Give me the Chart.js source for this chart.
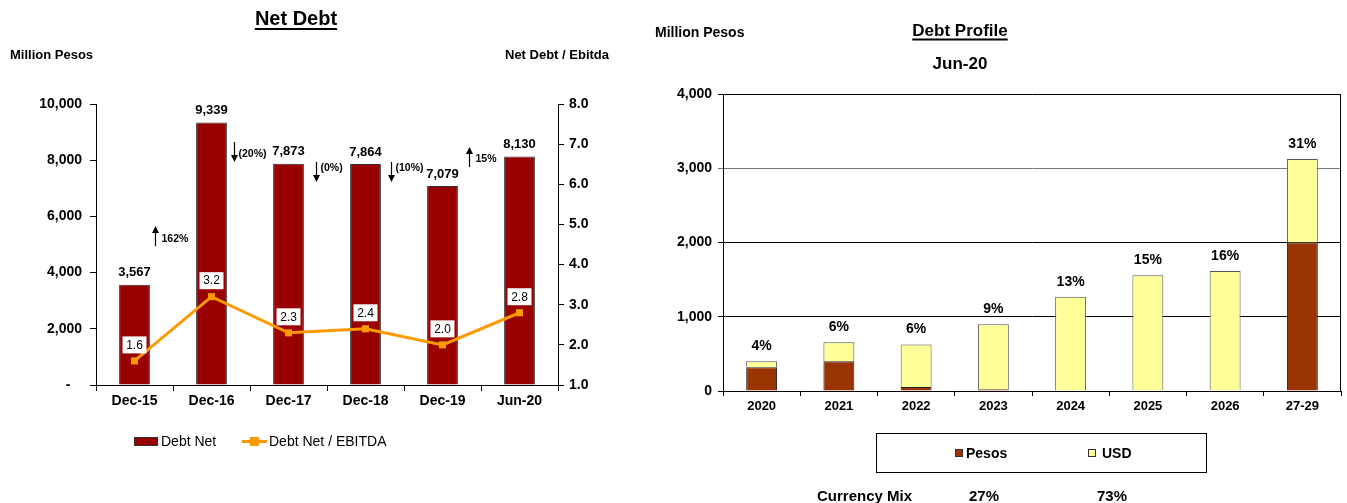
<!DOCTYPE html>
<html>
<head>
<meta charset="utf-8">
<script src="https://cdn.jsdelivr.net/npm/chart.js@4.4.1/dist/chart.umd.min.js"></script>
<style>
  body { margin: 0; background: #fff; }
  #page { position: relative; width: 1347px; height: 503px; overflow: hidden; font-family: "Liberation Sans", Arial, sans-serif; color: #000; }
  canvas { position: absolute; top: 0; }
  .t { position: absolute; white-space: nowrap; font-weight: bold; line-height: 1; }
  .c { transform: translate(-50%, -50%); }
  .m { transform: translateY(-50%); }
  .u { text-decoration: underline; text-decoration-thickness: 2px; text-underline-offset: 3px; }
  .sw { position: absolute; box-sizing: border-box; }
</style>
</head>
<body>
<div id="page">
  <canvas id="netDebt" width="640" height="503" style="left:0"></canvas>
  <canvas id="debtProfile" width="707" height="503" style="left:640px"></canvas>

  <!-- Net Debt headings -->
  <div class="t c u" style="left:296px;top:18px;font-size:20px">Net Debt</div>
  <div class="t m" style="left:10px;top:54px;font-size:13px">Million Pesos</div>
  <div class="t m" style="left:505px;top:54px;font-size:13px">Net Debt / Ebitda</div>

  <!-- Net Debt legend -->
  <div class="sw" style="left:134px;top:437px;width:24px;height:9px;background:#990000;border:1px solid #333"></div>
  <div class="t m" style="left:161px;top:441px;font-size:14px;font-weight:normal">Debt Net</div>
  <div class="sw" style="left:242px;top:440px;width:25px;height:3px;background:#ff9900"></div>
  <div class="sw" style="left:250px;top:437px;width:9px;height:9px;background:#ff9900"></div>
  <div class="t m" style="left:269px;top:441px;font-size:14px;font-weight:normal">Debt Net / EBITDA</div>

  <!-- Debt Profile headings -->
  <div class="t m" style="left:655px;top:32px;font-size:14px">Million Pesos</div>
  <div class="t c u" style="left:960px;top:30px;font-size:17px">Debt Profile</div>
  <div class="t c" style="left:960px;top:63px;font-size:17px">Jun-20</div>

  <!-- Debt Profile legend -->
  <div class="sw" style="left:876px;top:433px;width:331px;height:40px;border:1px solid #000"></div>
  <div class="sw" style="left:955px;top:449px;width:8px;height:8px;background:#993300;border:1px solid #333"></div>
  <div class="t m" style="left:966px;top:453px;font-size:14px">Pesos</div>
  <div class="sw" style="left:1088px;top:449px;width:8px;height:8px;background:#ffff99;border:1px solid #333"></div>
  <div class="t m" style="left:1102px;top:453px;font-size:14px">USD</div>

  <div class="t m" style="left:817px;top:495px;font-size:15px">Currency Mix</div>
  <div class="t c" id="mixPesos" style="left:984px;top:495px;font-size:15px"></div>
  <div class="t c" id="mixUsd" style="left:1112px;top:495px;font-size:15px"></div>
</div>

<script>
const FONT = '"Liberation Sans", Arial, sans-serif'

// Net Debt (million pesos) and leverage
const PERIODS       = ["Dec-15", "Dec-16", "Dec-17", "Dec-18", "Dec-19", "Jun-20"]
const NET_DEBT      = [3567, 9339, 7873, 7864, 7079, 8130]
const LEVERAGE      = [1.6, 3.2, 2.3, 2.4, 2.0, 2.8]
const CHANGE_LABELS = ["162%", "(20%)", "(0%)", "(10%)", "15%"]
const CHANGE_UP     = [true, false, false, false, true]

// Debt profile by maturity (million pesos)
const YEARS        = ["2020", "2021", "2022", "2023", "2024", "2025", "2026", "27-29"]
const PESOS        = [320, 400, 55, 25, 0, 0, 0, 2000]
const USD          = [80, 255, 570, 875, 1270, 1560, 1615, 1125]
const SHARE_LABELS = ["4%", "6%", "6%", "9%", "13%", "15%", "16%", "31%"]
const CURRENCY_MIX = ["27%", "73%"]

Chart.defaults.font.family = FONT
Chart.defaults.color = "#000"

document.getElementById("mixPesos").textContent = CURRENCY_MIX[0]
document.getElementById("mixUsd").textContent   = CURRENCY_MIX[1]

const fmt = v => v.toLocaleString("en-US")

// value labels on bars, boxed leverage labels, and period-over-period arrows
const netDebtLabels = {
  id: "netDebtLabels",
  afterDatasetsDraw(chart, args, opts) {
    const ctx  = chart.ctx
    const bars = chart.getDatasetMeta(0).data
    const pts  = chart.getDatasetMeta(1).data
    const y    = chart.scales.y
    ctx.save()

    ctx.font = "bold 13px " + FONT
    ctx.textAlign = "center"
    ctx.textBaseline = "middle"
    bars.forEach((b, i) => ctx.fillText(fmt(NET_DEBT[i]), b.x, b.y - 12))

    ctx.font = "12px " + FONT
    pts.forEach((p, i) => {
      const cy = p.y - 16
      ctx.fillStyle = "#fff"
      ctx.fillRect(p.x - 12, cy - 8.5, 24, 17)
      ctx.fillStyle = "#000"
      ctx.fillText(LEVERAGE[i].toFixed(1), p.x, cy + 0.5)
    })

    ctx.font = "bold 10.5px " + FONT
    ctx.textAlign = "left"
    ctx.strokeStyle = "#000"
    ctx.lineWidth = 1.2
    CHANGE_LABELS.forEach((txt, i) => {
      const b  = bars[i]
      const ax = Math.round(b.x + b.width / 2 + opts.gaps[i]) + 0.5
      const cy = y.getPixelForValue(opts.anchors[i])
      const top = cy - 10, bot = cy + 10
      ctx.beginPath()
      if (CHANGE_UP[i]) {
        ctx.moveTo(ax, bot); ctx.lineTo(ax, top + 5)
      } else {
        ctx.moveTo(ax, top); ctx.lineTo(ax, bot - 5)
      }
      ctx.stroke()
      ctx.beginPath()
      if (CHANGE_UP[i]) {
        ctx.moveTo(ax, top); ctx.lineTo(ax - 3.5, top + 7); ctx.lineTo(ax + 3.5, top + 7)
      } else {
        ctx.moveTo(ax, bot); ctx.lineTo(ax - 3.5, bot - 7); ctx.lineTo(ax + 3.5, bot - 7)
      }
      ctx.closePath()
      ctx.fill()
      ctx.fillText(txt, ax + (CHANGE_UP[i] ? 6 : 4), cy + opts.textShift[i])
    })
    ctx.restore()
  }
}

new Chart(document.getElementById("netDebt"), {
  data: {
    labels: PERIODS,
    datasets: [
      {
        type: "bar",
        label: "Debt Net",
        data: NET_DEBT,
        yAxisID: "y",
        backgroundColor: "#990000",
        borderColor: "#333",
        borderWidth: 1,
        barPercentage: 0.4,
        categoryPercentage: 1,
        order: 2
      },
      {
        type: "line",
        label: "Debt Net / EBITDA",
        data: LEVERAGE,
        yAxisID: "y1",
        borderColor: "#ff9900",
        backgroundColor: "#ff9900",
        borderWidth: 3,
        pointStyle: "rect",
        pointRadius: 5,
        pointBorderWidth: 0,
        tension: 0,
        order: 1
      }
    ]
  },
  options: {
    responsive: false,
    animation: false,
    layout: { padding: { top: 104, left: 0, right: 0, bottom: 0 } },
    plugins: {
      legend: { display: false },
      tooltip: { enabled: false },
      netDebtLabels: {
        gaps:      [5, 7, 12, 10, 11],
        anchors:   [5300, 8290, 7580, 7580, 8110],
        textShift: [3, 2, -4, -4, 2]
      }
    },
    scales: {
      x: {
        afterFit: s => { s.height = 118 },
        border: { color: "#000" },
        grid: { drawOnChartArea: false, tickLength: 6, color: "#000" },
        ticks: { font: { size: 14, weight: "bold" }, padding: 2, color: "#000" }
      },
      y: {
        position: "left",
        min: 0, max: 10000,
        afterFit: s => { s.width = 96 },
        border: { color: "#000" },
        grid: { drawOnChartArea: false, tickLength: 6, color: "#000" },
        ticks: {
          stepSize: 2000, padding: 8, color: "#000",
          font: { size: 14, weight: "bold" },
          callback: v => v === 0 ? "-   " : fmt(v)
        }
      },
      y1: {
        position: "right",
        min: 1, max: 8,
        afterFit: s => { s.width = 82 },
        border: { color: "#000" },
        grid: { drawOnChartArea: false, tickLength: 6, color: "#000" },
        ticks: {
          stepSize: 1, padding: 5, color: "#000",
          font: { size: 14, weight: "bold" },
          callback: v => v.toFixed(1)
        }
      }
    }
  },
  plugins: [netDebtLabels]
})

// share-of-total labels above each maturity stack, plus the right frame edge
const profileLabels = {
  id: "profileLabels",
  afterDatasetsDraw(chart) {
    const ctx = chart.ctx
    const top = chart.getDatasetMeta(1).data
    const a   = chart.chartArea
    ctx.save()
    ctx.strokeStyle = "#000"
    ctx.lineWidth = 1
    ctx.beginPath()
    ctx.moveTo(Math.round(a.right) - 0.5, a.top)
    ctx.lineTo(Math.round(a.right) - 0.5, a.bottom)
    ctx.stroke()
    ctx.font = "bold 14px " + FONT
    ctx.textAlign = "center"
    ctx.textBaseline = "middle"
    top.forEach((b, i) => ctx.fillText(SHARE_LABELS[i], b.x, b.y - 15))
    ctx.restore()
  }
}

new Chart(document.getElementById("debtProfile"), {
  type: "bar",
  data: {
    labels: YEARS,
    datasets: [
      {
        label: "Pesos",
        data: PESOS,
        backgroundColor: "#993300",
        borderColor: "#222",
        borderWidth: 1,
        barPercentage: 0.4,
        categoryPercentage: 1
      },
      {
        label: "USD",
        data: USD,
        backgroundColor: "#ffff99",
        borderColor: "#555",
        borderWidth: 1,
        barPercentage: 0.4,
        categoryPercentage: 1
      }
    ]
  },
  options: {
    responsive: false,
    animation: false,
    layout: { padding: { top: 94, left: 0, right: 6, bottom: 0 } },
    plugins: {
      legend: { display: false },
      tooltip: { enabled: false }
    },
    scales: {
      x: {
        stacked: true,
        afterFit: s => { s.height = 112 },
        border: { color: "#000" },
        grid: { drawOnChartArea: false, tickLength: 5, color: "#000" },
        ticks: { font: { size: 13, weight: "bold" }, padding: 3, color: "#000" }
      },
      y: {
        stacked: true,
        min: 0, max: 4000,
        afterFit: s => { s.width = 83 },
        border: { color: "#000" },
        grid: {
          tickLength: 5,
          color: ctx => ctx.tick && ctx.tick.value === 3000 ? "#777" : "#000"
        },
        ticks: {
          stepSize: 1000, padding: 6, color: "#000",
          font: { size: 14, weight: "bold" },
          callback: v => fmt(v)
        }
      }
    }
  },
  plugins: [profileLabels]
})
</script>
</body>
</html>
